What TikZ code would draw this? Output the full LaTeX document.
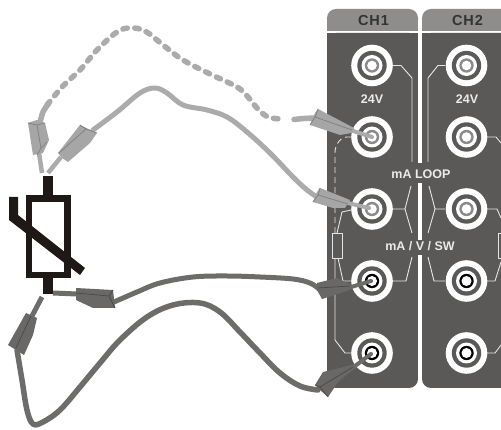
\documentclass[tikz,border=0pt]{standalone}
\usepackage{fontspec}
\setmainfont{Liberation Sans}
\newfontfamily\headfont[LetterSpace=6]{Liberation Sans}
\definecolor{panel}{HTML}{5B5958}
\definecolor{head}{HTML}{8E8D8C}
\definecolor{lightw}{HTML}{ABABAB}
\definecolor{lightb}{HTML}{A6A6A6}
\definecolor{lightd}{HTML}{7E7E7E}
\definecolor{ringg}{HTML}{8A8A8A}
\definecolor{darkw}{HTML}{6D6C6B}
\definecolor{darkb}{HTML}{696867}
\definecolor{darkd}{HTML}{4A4948}
\definecolor{sym}{HTML}{1E1916}
\tikzset{
  paneltext/.style={text=white!92!black,font=\bfseries\fontsize{12.5}{13}\selectfont,inner sep=0pt},
  headtext/.style={text=black!80,font=\headfont\bfseries\fontsize{14.5}{15}\selectfont,inner sep=0pt},
  trace/.style={draw=white!90!black,line width=0.9pt,line join=round},
  wire/.style={line width=#1,line cap=round,line join=round},
  sympath/.style={draw=sym,line width=6.5pt},
  ridge/.style={line width=0.7pt,line join=round},
  jackpt/.style={circle,inner sep=0pt,minimum size=0pt},
}
\newcommand{\jackrings}[3]{%
  \fill[white] (#1) circle (20.8);
  \fill[panel] (#1) circle (14.7);
  \fill[white] (#1) circle (10.5);
  \fill[#2] (#1) circle (7.2);
  \fill[white] (#1) circle (#3);
}
\begin{document}
\begin{tikzpicture}[x=1pt,y=-1pt]
\useasboundingbox (0,0) rectangle (501,430);
\fill[white] (0,0) rectangle (501,430);
% panels
\fill[head,rounded corners=9pt] (327,40) -- (327,9) -- (418,9) -- (418,40) -- cycle;
\fill[head,rounded corners=9pt] (422,40) -- (422,9) -- (520,9) -- (520,40) -- cycle;
\fill[white] (320,31) rectangle (501,33);
\fill[panel,rounded corners=9pt] (327,33) -- (418,33) -- (418,388) -- (327,388) -- cycle;
\fill[panel,rounded corners=9pt] (422,33) -- (520,33) -- (520,388) -- (422,388) -- cycle;
\fill[white] (418,20) rectangle (422,388);
\fill[panel] (327,33) rectangle (345,50);
\fill[panel] (400,33) rectangle (418,50);
\fill[panel] (422,33) rectangle (440,50);
\fill[panel] (480,33) rectangle (501,50);
\fill[panel] (417,163) rectangle (423,183);
\fill[panel] (417,240) rectangle (423,255);
\node[headtext] (ch1) at (373.5,20.5) {CH1};
\node[headtext] (ch2) at (467.5,20.5) {CH2};
% traces
\draw[trace] (392,65.5) -- (401,65.5) -- (412,78) -- (412,162);
\draw[trace] (445,65.5) -- (438,65.5) -- (428,78) -- (428,162);
\draw[trace] (411,186) -- (405,209) -- (392,209);
\draw[trace] (405,209) -- (412,233);
\draw[trace] (429,186) -- (435,209) -- (445,209);
\draw[trace] (435,209) -- (428,233);
\draw[trace] (412,257) -- (406,281) -- (392,281);
\draw[trace] (428,257) -- (434,281) -- (445,281);
\draw[trace,dash pattern=on 6pt off 4pt,rounded corners=5pt] (351,137) -- (342,137) -- (335,147) -- (335,233);
\draw[trace] (351,210) -- (342,212) -- (337,233);
\draw[trace] (332,233) rectangle (342,258);
\draw[trace] (338,258) -- (343,281) -- (351,281);
\draw[trace] (335,258) -- (335,340) -- (345,353) -- (351,353);
\draw[trace] (487,137) -- (496,137) -- (501,143);
\draw[trace] (487,209) -- (497,209) -- (501,218);
\draw[trace] (498,233) -- (501,233) (498,233) -- (498,258) -- (501,258);
\draw[trace] (487,281) -- (495,281) -- (501,262);
\draw[trace] (487,353) -- (495,353) -- (501,345);
% jacks
\node[jackpt] (j1) at (372,65.5) {};
\node[jackpt] (j2) at (372,137) {};
\node[jackpt] (j3) at (372,209) {};
\node[jackpt] (j4) at (372,281) {};
\node[jackpt] (j5) at (372,353) {};
\node[jackpt] (k1) at (466.5,65.5) {};
\node[jackpt] (k2) at (466.5,137) {};
\node[jackpt] (k3) at (466.5,209) {};
\node[jackpt] (k4) at (466.5,281) {};
\node[jackpt] (k5) at (466.5,353) {};
\jackrings{j1}{ringg}{4.8}
\jackrings{j2}{ringg}{4.8}
\jackrings{j3}{ringg}{4.8}
\jackrings{j4}{black}{5}
\jackrings{j5}{black}{5}
\jackrings{k1}{ringg}{4.8}
\jackrings{k2}{ringg}{4.8}
\jackrings{k3}{ringg}{4.8}
\jackrings{k4}{black}{5}
\jackrings{k5}{black}{5}
% panel labels
\node[paneltext] (v1) at (372,99.5) {24V};
\node[paneltext] (v2) at (467,99.5) {24V};
\node[paneltext] (loop) at (421,174) {mA LOOP};
\node[paneltext] (sw) at (420,246) {mA / V / SW};
% symbol
\draw[sympath] (29.2,198.7) rectangle (67.7,275);
\fill[sym] (43,176) rectangle (53,198);
\fill[sym] (43,275) rectangle (53,294);
\fill[sym] (9,197) -- (18,197) -- (18,215) -- (85,268) -- (80,275) -- (9,220) -- cycle;
% wires
\draw[wire=5.5pt,lightw,dash pattern=on 4.5pt off 7.5pt] plot[smooth,tension=0.6] coordinates {(47,105) (63,86) (80,70) (97,50) (117,32) (130,28) (145,31) (163,45) (183,60) (210,74) (237,87) (248,97) (257,108) (268,117) (282,119)};
\draw[wire=5.5pt,lightw] plot[smooth,tension=0.6] coordinates {(40,123) (43,112) (49,103)};
\draw[wire=5.5pt,lightw] plot[smooth,tension=0.6] coordinates {(294,119.5) (304,118.5) (315,118)};
\draw[wire=5pt,lightw] plot[smooth,tension=0.6] coordinates {(93,130) (117,112) (140,93) (155,88) (167,93) (183,105) (207,110) (227,117) (247,132) (270,153) (293,177) (307,190) (317,197)};
\draw[wire=5pt,darkw] plot[smooth,tension=0.6] coordinates {(114,302) (137,292) (160,283) (193,277) (227,276) (260,277) (293,279) (310,283) (319,289)};
\draw[wire=5.5pt,darkw] plot[smooth,tension=0.6] coordinates {(17,350) (22,380) (27,410) (33,424) (43,422) (60,410) (80,387) (100,363) (120,340) (147,317) (173,305) (200,303) (220,312) (240,332) (260,353) (280,373) (300,386) (318,390)};
% leads at the symbol
\draw[wire=4.5pt,lightw,line cap=butt] (39,153) -- (42,173);
\draw[wire=4.5pt,lightw,line cap=butt] (61,157) -- (48,173);
\draw[wire=5pt,darkw,line cap=butt] (53,293) -- (77,294);
\draw[wire=5pt,darkw,line cap=butt] (42,297) -- (32,316);
% tips into jacks
\draw[wire=4pt,lightw] (350,130) -- (372,137);
\draw[wire=4pt,lightw] (348,203) -- (369,208);
\draw[wire=4pt,darkw] (348,288) -- (371,281);
\draw[wire=4pt,darkw] (351,369) -- (371,354);
% probes, light
\fill[lightb] (28,123) -- (37,120) -- (45,123) -- (49,140) -- (43,153) -- (33,155) -- cycle;
\draw[lightd,ridge] (28,123) -- (37,125) -- (45,123) (37,125) -- (41,148) -- (47,142) (41,148) -- (37,155);
\fill[lightb] (58,153) -- (80,125) -- (97,133) -- (90,143) -- (68,162) -- (62,158) -- cycle;
\draw[lightd,ridge] (59,153) -- (86,129) -- (80,125) (86,129) -- (97,133);
\fill[lightb] (318,109) -- (354,128) -- (352,133) -- (340,135) -- (310,125) -- (315,113) -- cycle;
\draw[lightd,ridge] (315,117) -- (352,130) (318,109) -- (315,117) -- (310,125);
\fill[lightb] (320,188) -- (350,200) -- (345,208) -- (333,208) -- (313,202) -- (317,192) -- cycle;
\draw[lightd,ridge] (318,195) -- (348,204) (320,188) -- (318,195) -- (313,202);
% probes, dark
\fill[darkb] (76,288) -- (113,290) -- (115,308) -- (93,308) -- (76,300) -- cycle;
\draw[darkd,ridge] (76,293) -- (109,296) -- (113,290) (109,296) -- (115,308);
\fill[darkb] (317,283) -- (337,278) -- (352,285) -- (350,290) -- (322,299) -- (317,290) -- cycle;
\draw[darkd,ridge] (318,288) -- (350,286);
\fill[darkb] (26,313) -- (37,318) -- (33,335) -- (24,355) -- (8,345) -- cycle;
\draw[darkd,ridge] (31,316) -- (16,348);
\fill[darkb] (315,385) -- (323,372) -- (352,365) -- (355,368) -- (338,382) -- (328,397) -- (320,390) -- cycle;
\draw[darkd,ridge] (320,387) -- (353,367) (315,385) -- (320,387) -- (328,397);
\end{tikzpicture}
\end{document}
